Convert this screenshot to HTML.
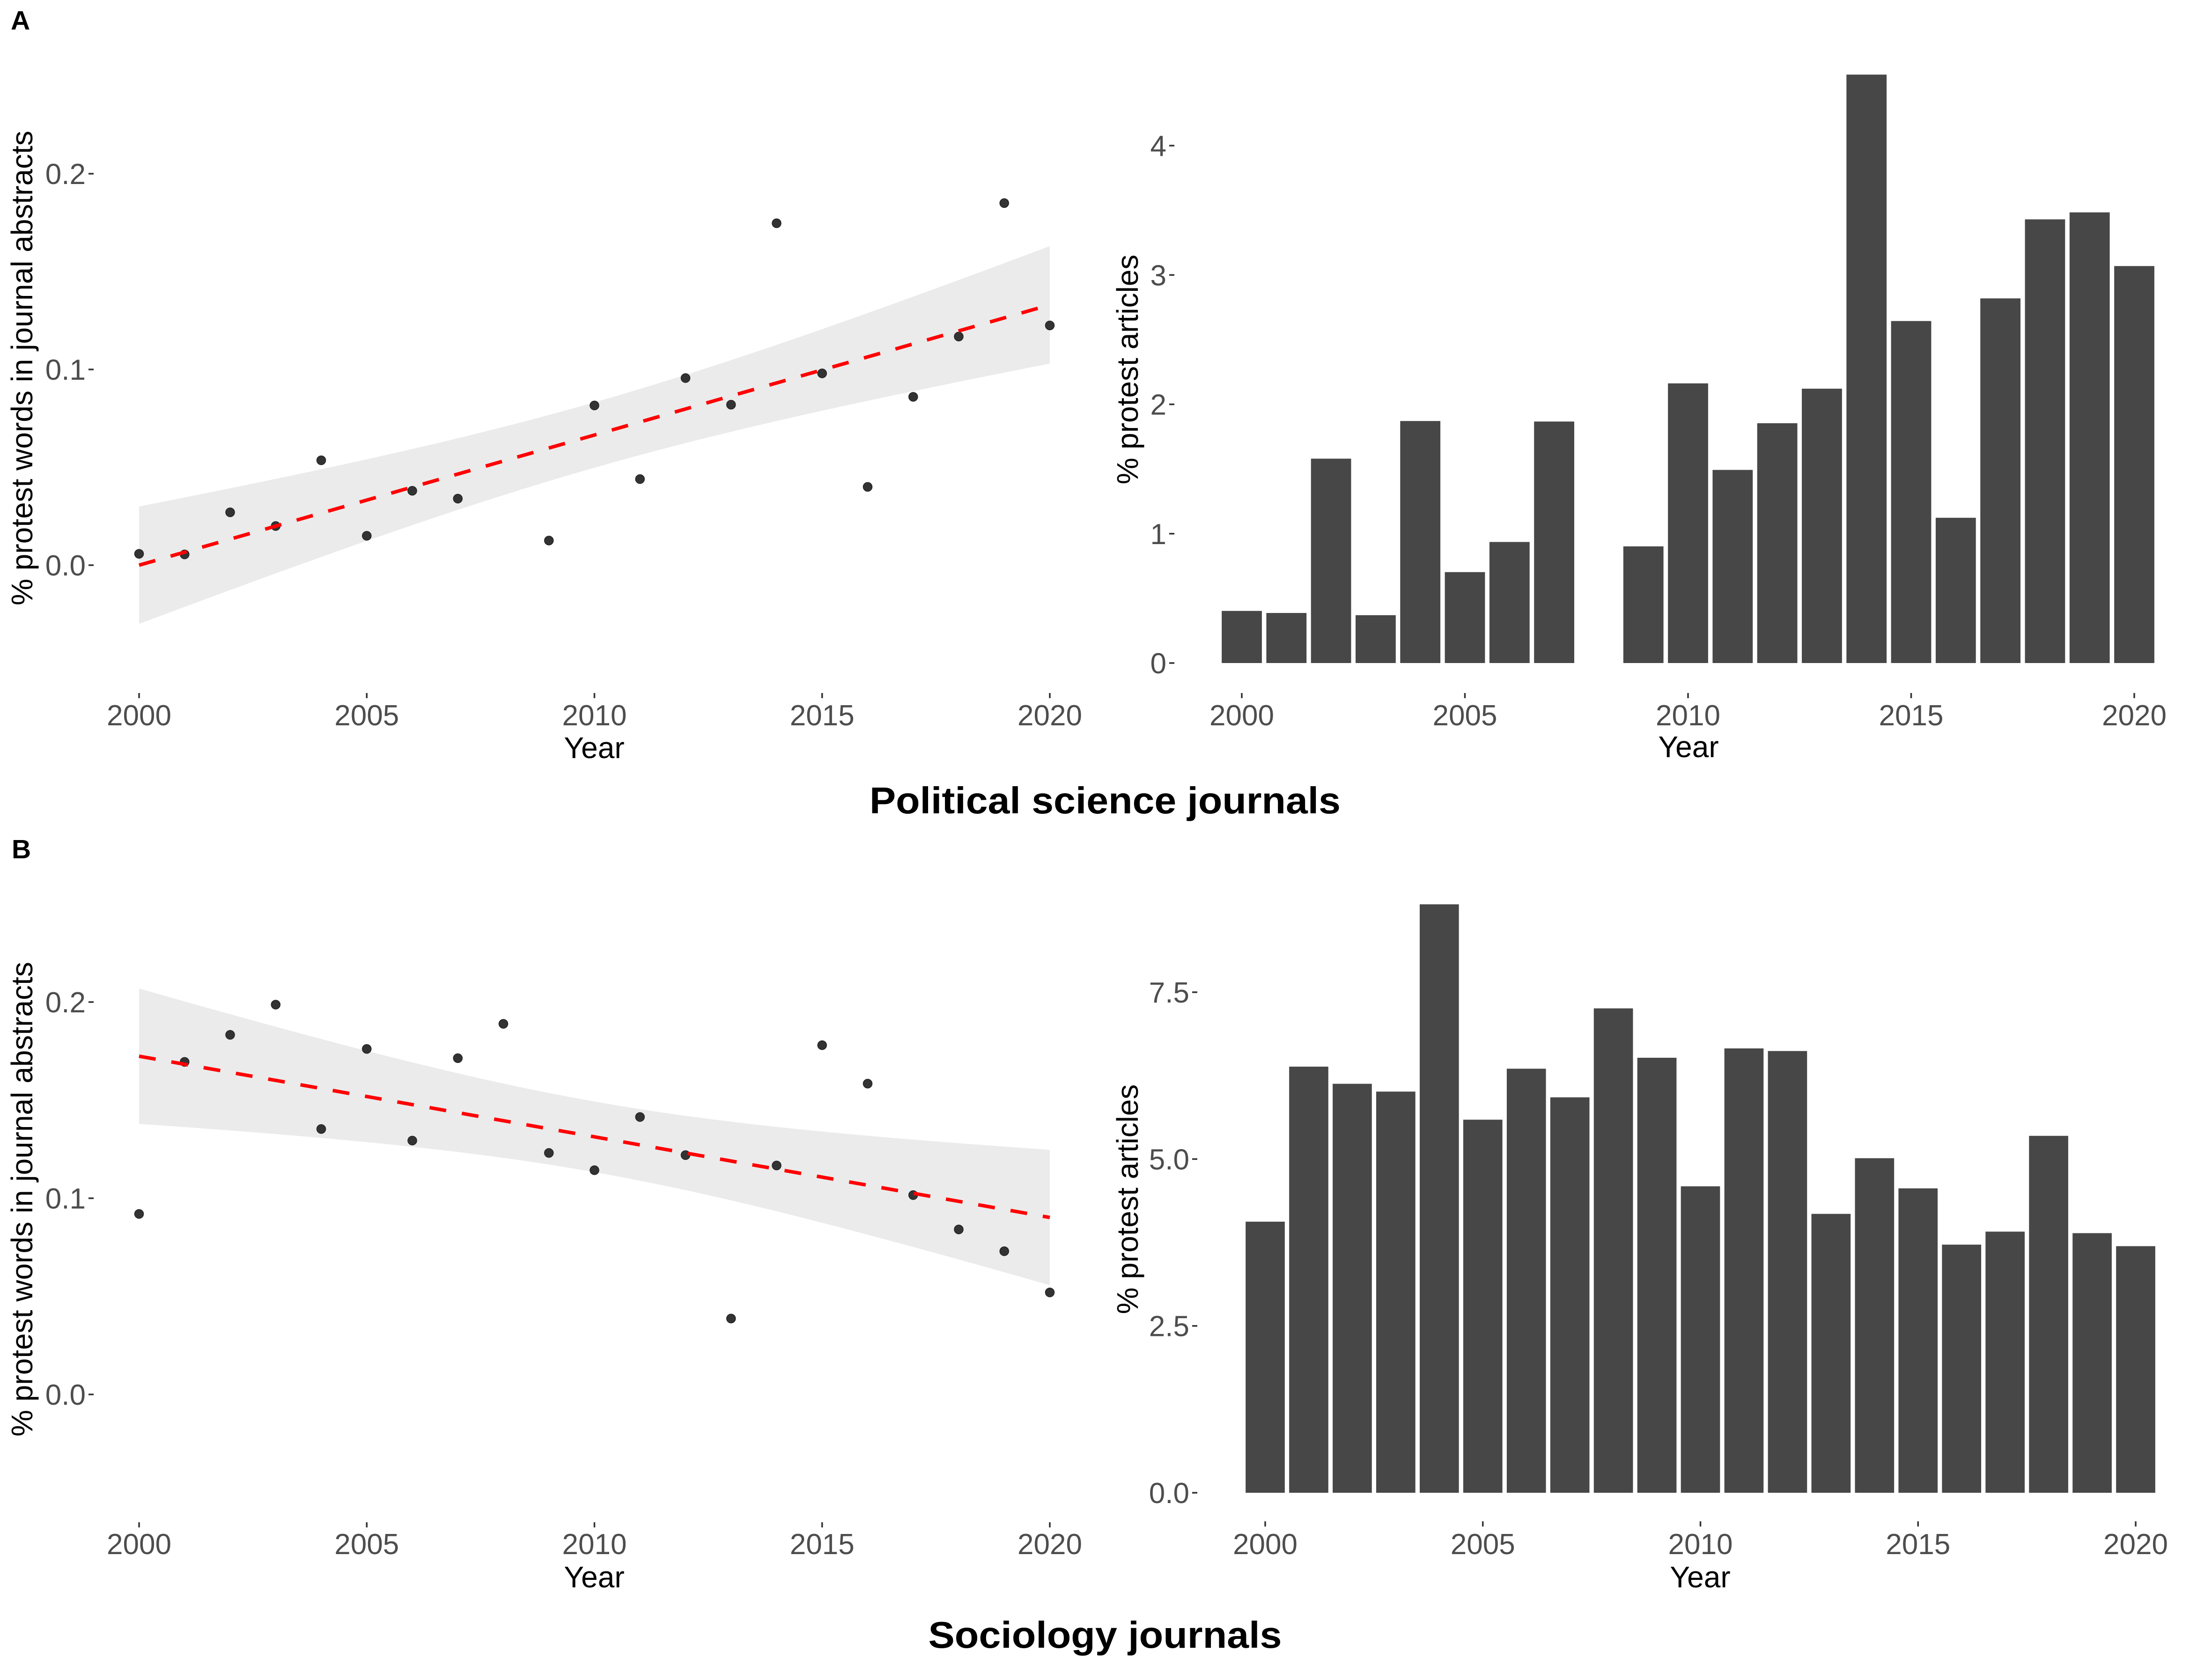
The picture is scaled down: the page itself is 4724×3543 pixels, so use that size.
<!DOCTYPE html>
<html><head><meta charset="utf-8"><style>
html,body{margin:0;padding:0;background:#fff;}
svg{display:block;font-family:"Liberation Sans",Arial,sans-serif;}
.tick{font-size:62px;fill:#4d4d4d;}
.ttl{font-size:64px;fill:#000;}
</style></head><body>
<svg id="fig" width="4724" height="3543" viewBox="0 0 4724 3543" xmlns="http://www.w3.org/2000/svg">
<text x="23" y="63" font-size="57" font-weight="bold">A</text>
<text x="25" y="1833" font-size="57" font-weight="bold">B</text>
<text x="2360" y="1737" font-size="80" font-weight="bold" text-anchor="middle" textLength="1006" lengthAdjust="spacingAndGlyphs">Political science journals</text>
<text x="2360" y="3519" font-size="80" font-weight="bold" text-anchor="middle" textLength="755" lengthAdjust="spacingAndGlyphs">Sociology journals</text>
</svg>
<script>
// ---- data ----
const years = [2000,2001,2002,2003,2004,2005,2006,2007,2008,2009,2010,2011,2012,2013,2014,2015,2016,2017,2018,2019,2020];
const polWords = [0.0058,0.0055,0.027,0.020,0.0536,0.015,0.038,0.034,null,0.0126,0.0816,0.044,0.0956,0.082,0.1747,0.098,0.040,0.086,0.1168,0.185,0.1225];
const polFit = [0.0, 0.133];          // fitted value at 2000, 2020
const polBand = [0.030, 0.0167];      // CI half-width at ends, at middle
const polArticles = [0.403,0.387,1.58,0.370,1.871,0.703,0.936,1.867,null,0.902,2.162,1.493,1.854,2.121,4.549,2.644,1.123,2.819,3.430,3.484,3.069];
const socWords = [0.092,0.1695,0.1833,0.1987,0.1353,0.1761,0.1294,0.1714,0.1889,0.1231,0.1143,0.1414,0.122,0.0387,0.1167,0.178,0.1584,0.1016,0.0841,0.073,0.052];
const socFit = [0.1724, 0.0902];
const socBand = [0.0345, 0.018];
const socArticles = [4.062,6.385,6.128,6.011,8.817,5.590,6.354,5.925,7.258,6.518,4.592,6.658,6.619,4.179,5.013,4.561,3.718,3.913,5.348,3.890,3.695];
const xTicks = [2000,2005,2010,2015,2020];
const wordTicks = [0.0,0.1,0.2];
const wordTickLabels = ["0.0","0.1","0.2"];
const polArtTicks = [0,1,2,3,4];
const polArtTickLabels = ["0","1","2","3","4"];
const socArtTicks = [0,2.5,5,7.5];
const socArtTickLabels = ["0.0","2.5","5.0","7.5"];

const NS="http://www.w3.org/2000/svg";
const svg=document.getElementById('fig');
function mk(tag,attrs,parent){const e=document.createElementNS(NS,tag);for(const k in attrs)e.setAttribute(k,attrs[k]);(parent||svg).appendChild(e);return e;}

function axes(g,xs,ys,xt,yt,ytl,cfg){
  xt.forEach(t=>{
    const tk=mk('line',{x1:xs(t),x2:xs(t),y1:cfg.xTickY,y2:cfg.xTickY+11,stroke:'#333','stroke-width':3.5},g);
    
    
    const tl=mk('text',{x:xs(t),y:cfg.xLabY,class:'tick','text-anchor':'middle'},g);
    tl.textContent=t;
    
    
  });
  yt.forEach((t,i)=>{
    const tk=mk('line',{x1:cfg.yTickX,x2:cfg.yTickX+11,y1:ys(t),y2:ys(t),stroke:'#333','stroke-width':3.5},g);
    
    
    const tl=mk('text',{x:cfg.yTickX-6,y:ys(t)+22,class:'tick','text-anchor':'end'},g);
    tl.textContent=ytl[i];
    
    
  });
  const xt2=mk('text',{x:cfg.xTitleX,y:cfg.xTitleY,class:'ttl','text-anchor':'middle'},g);
  xt2.textContent='Year';
  
  
  const yt2=mk('text',{x:0,y:0,class:'ttl','text-anchor':'middle',transform:`translate(${cfg.yTitleX},${cfg.yTitleY}) rotate(-90)`},g);
  yt2.textContent=cfg.yTitle;
  
  
}

function scatterPanel(name,vals,fit,band,x0,x1,y0,yPer01,cfg){
  const g=mk('g',{});
  
  
  const xs=y=>x0+(y-2000)*(x1-x0)/20;
  const ys=v=>y0-v*yPer01/0.1;
  const fitAt=t=>fit[0]+(fit[1]-fit[0])*t/20;
  const k=Math.sqrt(Math.max(band[0]*band[0]-band[1]*band[1],0))/10;
  const hw=t=>Math.sqrt(band[1]*band[1]+k*k*(t-10)*(t-10));
  let up=[],lo=[];
  for(let i=0;i<=40;i++){const t=i/2;up.push(xs(2000+t)+','+ys(fitAt(t)+hw(t)));lo.unshift(xs(2000+t)+','+ys(fitAt(t)-hw(t)));}
  const rb=mk('polygon',{points:up.concat(lo).join(' '),fill:'#ebebeb'},g);
  
  
  years.forEach((yr,i)=>{
    if(vals[i]==null)return;
    const c=mk('circle',{cx:xs(yr),cy:ys(vals[i]),r:9.5,fill:'#333',stroke:'#222','stroke-width':1.5},g);
    
    
  });
  const ln=mk('line',{x1:xs(2000),y1:ys(fitAt(0)),x2:xs(2020),y2:ys(fitAt(20)),stroke:'#ff0000','stroke-width':7.5,'stroke-dasharray':'36 34'},g);
  
  
  axes(g,xs,ys,xTicks,wordTicks,wordTickLabels,cfg);
}

function barPanel(name,vals,x0,x1,y0,yTop,topVal,yt,ytl,cfg){
  const g=mk('g',{});
  
  
  const step=(x1-x0)/20;
  const xs=y=>x0+(y-2000)*step;
  const ys=v=>y0-v*(y0-yTop)/topVal;
  years.forEach((yr,i)=>{
    if(vals[i]==null)return;
    const w=step*0.9;
    const r=mk('rect',{x:xs(yr)-w/2,y:ys(vals[i]),width:w,height:y0-ys(vals[i]),fill:'#474747'},g);
    
    
  });
  axes(g,xs,ys,xTicks,yt,ytl,cfg);
}

scatterPanel('political-words-chart',polWords,polFit,polBand,297,2242,1207,418,
  {xTickY:1480,xLabY:1549,yTickX:189,xTitleX:1269,xTitleY:1619,yTitleX:69,yTitleY:786,yTitle:'% protest words in journal abstracts'});
barPanel('political-articles-chart',polArticles,2652,4558,1416,311,4,polArtTicks,polArtTickLabels,
  {xTickY:1480,xLabY:1549,yTickX:2497,xTitleX:3606,xTitleY:1617,yTitleX:2430,yTitleY:789,yTitle:'% protest articles'});
scatterPanel('sociology-words-chart',socWords,socFit,socBand,297,2242,2978,419,
  {xTickY:3251,xLabY:3319,yTickX:189,xTitleX:1269,xTitleY:3390,yTitleX:69,yTitleY:2561,yTitle:'% protest words in journal abstracts'});
barPanel('sociology-articles-chart',socArticles,2702,4561,3188,2119,7.5,socArtTicks,socArtTickLabels,
  {xTickY:3249,xLabY:3319,yTickX:2546,xTitleX:3631,xTitleY:3390,yTitleX:2430,yTitleY:2561,yTitle:'% protest articles'});
</script>
</body></html>
